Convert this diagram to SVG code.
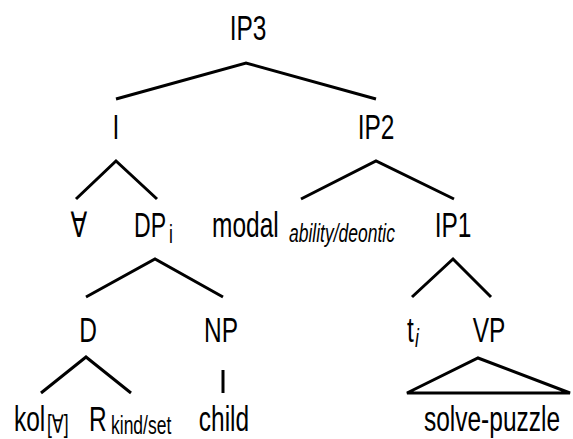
<svg xmlns="http://www.w3.org/2000/svg" width="573" height="439" viewBox="0 0 573 439">
  <style>
    .lbl{font-family:"Liberation Sans",Arial,"DejaVu Sans",sans-serif;font-size:35px;fill:#000}
    .sub{font-family:"Liberation Sans",Arial,"DejaVu Sans",sans-serif;font-size:25px;fill:#000}
    .it{font-style:italic}
    .mid{text-anchor:middle}
    .edge{stroke:#000;stroke-width:3;fill:none;stroke-linejoin:miter}
  </style>
  <rect width="573" height="439" fill="#fff"/>

  <!-- tree branches -->
  <g id="connectors" class="edge">
    <path d="M116,99 L246,63 L376,99"/>
    <path d="M76,199 L116,161 L157,199"/>
    <path d="M301,199 L376,161 L454,199"/>
    <path d="M86,297 L155,259 L223,297"/>
    <path d="M412,297 L453,259 L491,297"/>
    <path d="M41,393 L86,357 L131,393"/>
    <path d="M223,370 V393"/>
    <path d="M407,393 L478,358 L570,393 Z"/>
  </g>

  <!-- labels: condensed sans, horizontally scaled -->
  <g id="n-ip3"><text class="lbl mid" transform="translate(248 40) scale(0.7 1)">IP3</text></g>
  <g id="n-i"><text class="lbl mid" transform="translate(116 139) scale(0.7 1)">I</text></g>
  <g id="n-ip2"><text class="lbl mid" transform="translate(376 139) scale(0.7 1)">IP2</text></g>
  <g id="n-forall"><text class="lbl mid" transform="translate(79 237) scale(0.7 1)">∀</text></g>
  <g id="n-dp">
    <text class="lbl" transform="translate(134 237) scale(0.66 1)">DP</text>
    <text class="sub" transform="translate(169 243) scale(0.7 1)">i</text>
  </g>
  <g id="n-modal">
    <text class="lbl" transform="translate(212 237) scale(0.7 1)">modal</text>
    <text class="sub it" transform="translate(289 242) scale(0.7 1)">ability/deontic</text>
  </g>
  <g id="n-ip1"><text class="lbl mid" transform="translate(453 237) scale(0.7 1)">IP1</text></g>
  <g id="n-d"><text class="lbl mid" transform="translate(88 342) scale(0.7 1)">D</text></g>
  <g id="n-np"><text class="lbl mid" transform="translate(221 342) scale(0.7 1)">NP</text></g>
  <g id="n-t">
    <text class="lbl" transform="translate(407 342) scale(0.7 1)">t</text>
    <text class="sub it" transform="translate(415 347) scale(0.7 1)">i</text>
  </g>
  <g id="n-vp"><text class="lbl mid" transform="translate(489 342) scale(0.7 1)">VP</text></g>
  <g id="n-kol">
    <text class="lbl" transform="translate(14 431) scale(0.7 1)">kol</text>
    <text class="sub" transform="translate(47 433) scale(0.7 1)">[∀]</text>
  </g>
  <g id="n-r">
    <text class="lbl" transform="translate(89 431) scale(0.7 1)">R</text>
    <text class="sub" transform="translate(111 434) scale(0.7 1)">kind/set</text>
  </g>
  <g id="n-child"><text class="lbl mid" transform="translate(224 431) scale(0.7 1)">child</text></g>
  <g id="n-solve"><text class="lbl mid" transform="translate(492 431) scale(0.7 1)">solve-puzzle</text></g>
</svg>
